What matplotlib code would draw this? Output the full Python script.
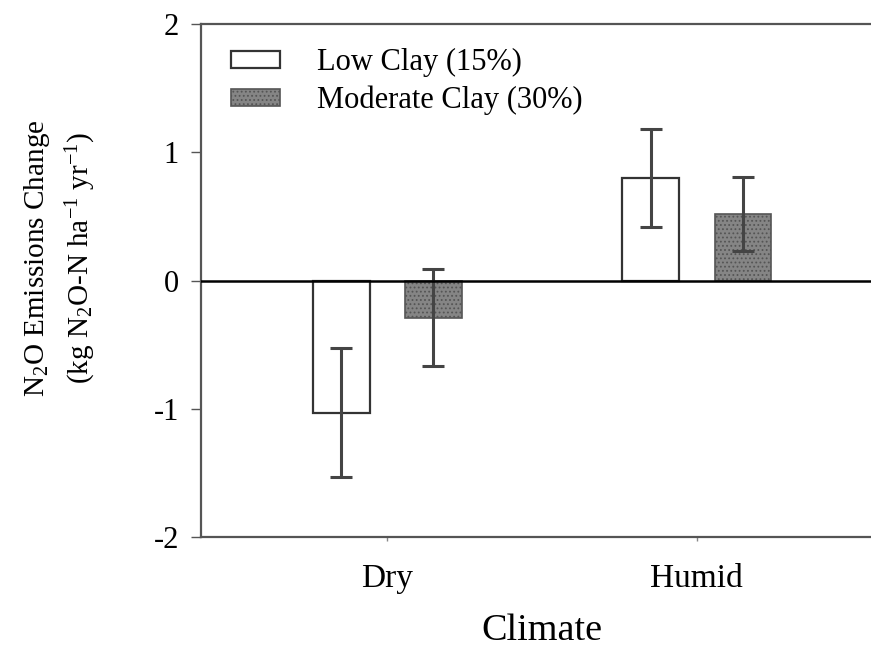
"""
N2O emissions change by climate and clay content
"""
import numpy as np
import matplotlib
matplotlib.use("Agg")
import matplotlib.pyplot as plt
from matplotlib.ticker import FuncFormatter

plt.rcParams['font.family'] = ['Liberation Serif', 'DejaVu Serif']
plt.rcParams['mathtext.fontset'] = 'custom'
plt.rcParams['mathtext.rm'] = 'Liberation Serif'
plt.rcParams['mathtext.it'] = 'Liberation Serif:italic'
plt.rcParams['hatch.color'] = '#555555'
plt.rcParams['hatch.linewidth'] = 0.8

# data
climates = ['Dry', 'Humid']
series = ['Low Clay (15%)', 'Moderate Clay (30%)']
low_clay = [-1.03, 0.80]
low_clay_err = [0.50, 0.38]
mod_clay = [-0.29, 0.52]
mod_clay_err = [0.38, 0.29]

fig = plt.figure(figsize=(8.71, 6.5), dpi=100)
ax = fig.add_axes([0.2308, 0.1738, 0.7692, 0.7893])

x = np.arange(len(climates))
width = 0.183
offset = 0.149
err_kw = dict(ecolor='#444444', elinewidth=2.2, capsize=8, capthick=2.2)

ax.bar(x - offset, low_clay, width, yerr=low_clay_err, color='white',
       edgecolor='#333333', linewidth=1.6, error_kw=err_kw, label=series[0], zorder=2)
ax.bar(x + offset, mod_clay, width, yerr=mod_clay_err, color='#858585',
       edgecolor='#555555', linewidth=1.2, hatch='....', error_kw=err_kw,
       label=series[1], zorder=2)

ax.axhline(0, color='black', linewidth=1.8, zorder=3)

ax.set_xlim(-0.602, 1.563)
ax.set_ylim(-2, 2)
ax.set_yticks([-2, -1, 0, 1, 2])
ax.yaxis.set_major_formatter(FuncFormatter(lambda v, p: f"{v:.0f}"))
ax.set_xticks(x)
ax.set_xticklabels(climates)
ax.tick_params(axis='y', labelsize=22, length=7, width=1, color='#555555', pad=9)
ax.tick_params(axis='x', labelsize=24, length=3, width=1, color='#888888', pad=16)

for side in ['left', 'bottom', 'top']:
    ax.spines[side].set_color('#555555')
    ax.spines[side].set_linewidth(1.6)
ax.spines['right'].set_visible(False)

ax.set_xlabel('Climate', fontsize=27.5)
ax.xaxis.set_label_coords((542 - 201) / 670, (537 - 640) / 513)
ax.xaxis.label.set_verticalalignment('baseline')

fig.text(60 / 871, 1 - 258 / 650,
         'N$_2$O Emissions Change\n(kg N$_2$O-N ha$^{-1}$ yr$^{-1}$)',
         rotation=90, ha='center', va='center', multialignment='center',
         fontsize=21, linespacing=1.5)

ax.legend(loc='upper left', bbox_to_anchor=(0.003, 1.006), frameon=False,
          fontsize=22, handlelength=1.63, handleheight=0.46, handletextpad=1.2,
          labelspacing=0.27, borderpad=0.4)

fig.savefig('out.png', dpi=100)
